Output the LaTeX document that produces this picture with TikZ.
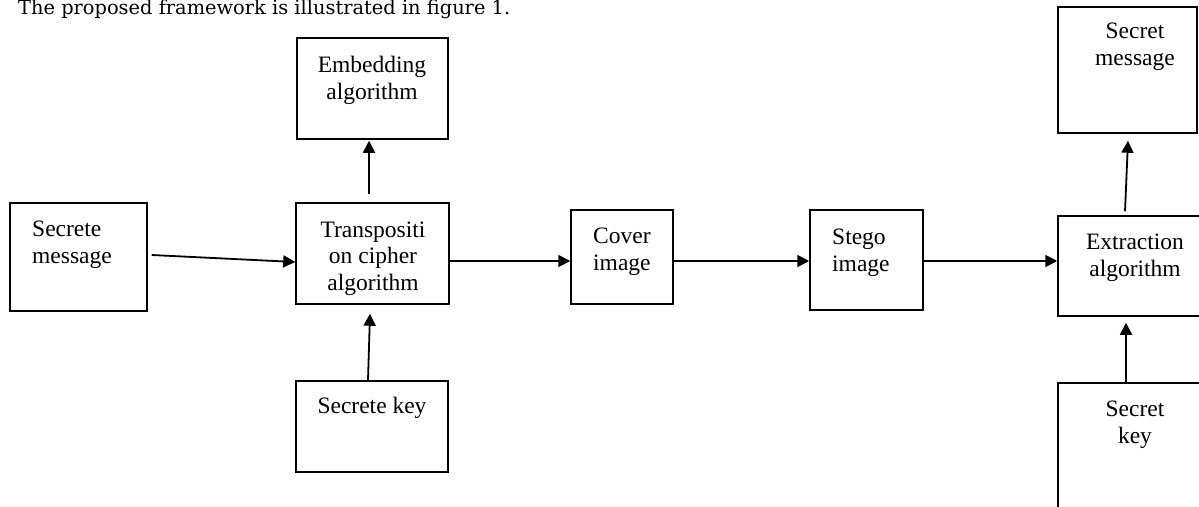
\documentclass[tikz,border=0pt]{standalone}
\usepackage{fontspec}
\setmainfont{Liberation Serif}
\newfontfamily\titlefont{DejaVu Serif}
\usetikzlibrary{arrows.meta}
\begin{document}
\begin{tikzpicture}[x=1pt,y=-1pt,
  box/.style={draw=black,line width=1.5pt,rectangle,inner sep=0pt},
  lbl/.style={inner sep=0pt,font=\fontsize{23.5}{26.5}\selectfont,anchor=base},
  arr/.style={line width=1.8pt,-{Triangle[length=12pt,width=12pt]}}]
\useasboundingbox (0,0) rectangle (1199,506);
% title
\node[inner sep=0pt,anchor=base west,font=\titlefont\fontsize{19.4}{22}\selectfont] (title) at (18,14) {The proposed framework is illustrated in figure 1.};
% boxes
\node[box,minimum width=137pt,minimum height=108pt] (sm) at (78.5,257) {};
\node[box,minimum width=153pt,minimum height=101pt] (tc) at (372.5,253.5) {};
\node[box,minimum width=151pt,minimum height=101pt] (emb) at (372.5,88.5) {};
\node[box,minimum width=152pt,minimum height=91pt] (sk) at (372,426.5) {};
\node[box,minimum width=102pt,minimum height=94pt] (cov) at (622,257) {};
\node[box,minimum width=113pt,minimum height=100pt] (steg) at (866.5,260) {};
\node[box,minimum width=154pt,minimum height=100pt] (ext) at (1135,266) {};
\node[box,minimum width=154pt,minimum height=137pt] (skr) at (1135,451.5) {};
\node[box,minimum width=139pt,minimum height=126pt] (smr) at (1127.5,70) {};
% labels (base anchor = baseline of last line)
\node[lbl,anchor=base west,align=left] (tsm) at (32,263) {Secrete\\message};
\node[lbl,align=center] (ttc) at (373,290) {Transpositi\\on cipher\\algorithm};
\node[lbl,align=center] (temb) at (372,99) {Embedding\\algorithm};
\node[lbl] (tsk) at (372,413) {Secrete key};
\node[lbl,anchor=base west,align=left] (tcov) at (593,270) {Cover\\image};
\node[lbl,anchor=base west,align=left] (tsteg) at (832,271) {Stego\\image};
\node[lbl,align=center] (text) at (1135,276) {Extraction\\algorithm};
\node[lbl,align=center] (tskr) at (1135,443) {Secret\\key};
\node[lbl,align=center] (tsmr) at (1135,65) {Secret\\message};
% connectors
\draw[arr] ([shift={(4,-2)}]sm.east) -- ([shift={(0,8.5)}]tc.west);
\draw[arr] ([shift={(-3.5,-8)}]tc.north) -- ([shift={(-3.5,1)}]emb.south);
\draw[arr] ([shift={(-4,0)}]sk.north) -- ([shift={(-2.5,9)}]tc.south);
\draw[arr] ([shift={(0,7.5)}]tc.east) -- ([shift={(0,4)}]cov.west);
\draw[arr] ([shift={(0,4)}]cov.east) -- ([shift={(0,1)}]steg.west);
\draw[arr] ([shift={(0,1)}]steg.east) -- ([shift={(0,-5)}]ext.west);
\draw[arr] ([shift={(-10,-4)}]ext.north) -- ([shift={(0.5,7)}]smr.south);
\draw[arr] ([shift={(-9,0)}]skr.north) -- ([shift={(-9,6)}]ext.south);
\end{tikzpicture}
\end{document}
